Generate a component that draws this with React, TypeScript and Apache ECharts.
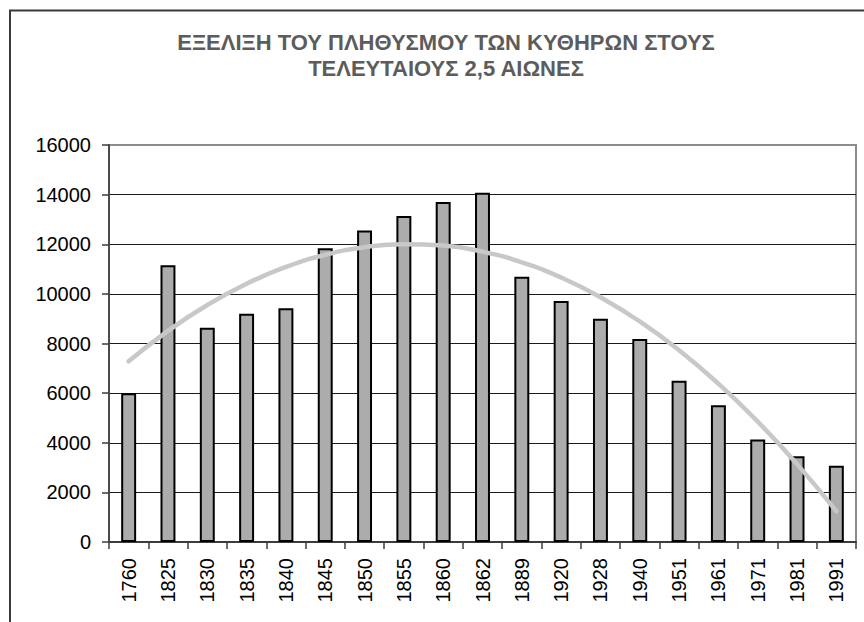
import React, { useEffect, useRef } from "react";
import * as echarts from "echarts";

const titleLines = ["ΕΞΕΛΙΞΗ ΤΟΥ ΠΛΗΘΥΣΜΟΥ ΤΩΝ ΚΥΘΗΡΩΝ ΣΤΟΥΣ", "ΤΕΛΕΥΤΑΙΟΥΣ 2,5 ΑΙΩΝΕΣ"];

const years = [
  "1760", "1825", "1830", "1835", "1840", "1845", "1850", "1855", "1860", "1862",
  "1889", "1920", "1928", "1940", "1951", "1961", "1971", "1981", "1991",
];

const population = [
  6000, 11150, 8630, 9200, 9420, 11840, 12550, 13140, 13700, 14080,
  10690, 9710, 9000, 8180, 6500, 5510, 4130, 3460, 3070,
];

// Trend line values at each category
const trend = [
  7283, 8509, 9551, 10409, 11084, 11574, 11882, 12005, 11945, 11701,
  11273, 10662, 9867, 8889, 7726, 6381, 4851, 3138, 1241,
];

const yMin = 0;
const yMax = 16000;
const yStep = 2000;

const FONT = "'Liberation Sans', Arial, sans-serif";

export default function App() {
  const ref = useRef<HTMLDivElement>(null);

  useEffect(() => {
    if (!ref.current) return;
    const chart = echarts.init(ref.current, undefined, { renderer: "svg" });
    const gridColors = [
      "#1a1a1a", "#1a1a1a", "#1a1a1a", "#1a1a1a", "#1a1a1a",
      "#1a1a1a", "#1a1a1a", "#1a1a1a", "rgba(0,0,0,0)",
    ];
    chart.setOption({
      animation: false,
      backgroundColor: "#ffffff",
      title: {
        text: titleLines.join("\n"),
        left: 441,
        top: 24,
        textAlign: "center",
        textStyle: {
          fontFamily: FONT,
          fontWeight: "bold",
          fontSize: 22,
          color: "#5c5c5c",
          lineHeight: 26,
        },
      },
      graphic: [
        {
          type: "rect",
          shape: { x: 10, y: 10.5, width: 900, height: 700 },
          style: { fill: "none", stroke: "#3a3a3a", lineWidth: 2 },
          silent: true,
        },
      ],
      grid: {
        left: 109,
        right: 8,
        top: 145,
        bottom: 80,
        show: true,
        borderColor: "#8c8c8c",
        borderWidth: 2,
        backgroundColor: "transparent",
      },
      xAxis: {
        type: "category",
        data: years,
        axisLine: { show: true, lineStyle: { color: "#3c3c3c", width: 2 } },
        axisTick: { show: true, length: 7, lineStyle: { color: "#3c3c3c", width: 1.5 } },
        axisLabel: {
          rotate: 90,
          margin: 16,
          fontFamily: FONT,
          fontSize: 20,
          color: "#000",
        },
      },
      yAxis: {
        type: "value",
        min: yMin,
        max: yMax,
        interval: yStep,
        axisLine: { show: true, lineStyle: { color: "#4a4a4a", width: 2 } },
        axisTick: { show: true, length: 7, lineStyle: { color: "#3c3c3c", width: 1.5 } },
        axisLabel: {
          margin: 18,
          fontFamily: FONT,
          fontSize: 20,
          color: "#000",
          formatter: (v: number) => String(v),
        },
        splitLine: { show: true, lineStyle: { color: gridColors, width: 1 } },
      },
      series: [
        {
          type: "bar",
          data: population,
          barWidth: "38%",
          itemStyle: { color: "#acacac", borderColor: "#000", borderWidth: 2 },
          z: 2,
        },
        {
          type: "line",
          data: trend,
          smooth: true,
          showSymbol: false,
          symbol: "none",
          lineStyle: { color: "#c8c8c8", width: 4.5, cap: "round" },
          z: 3,
        },
      ],
    });
    return () => chart.dispose();
  }, []);

  return (
    <div
      ref={ref}
      style={{ position: "fixed", left: 0, top: 0, width: 864, height: 622 }}
    />
  );
}
